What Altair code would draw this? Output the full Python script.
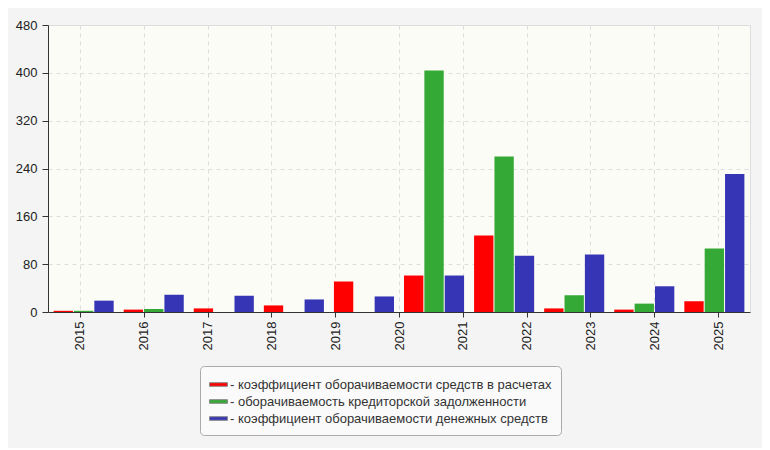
import altair as alt
import pandas as pd

years = ["2015", "2016", "2017", "2018", "2019", "2020", "2021", "2022", "2023", "2024", "2025"]
groups = [1, 2, 3, 4, 5, 6, 7, 8, 9, 10]
series = [
    "коэффициент оборачиваемости средств в расчетах",
    "оборачиваемость кредиторской задолженности",
    "коэффициент оборачиваемости денежных средств",
]
red_vals = [2, 4, 6, 11, 51, 61, 128, 6, 4, 18]
green_vals = [2, 5, 0, 0, 0, 404, 260, 28, 14, 106]
blue_vals = [19, 29, 27, 21, 26, 61, 94, 96, 43, 231]
colors = ["#ff0000", "#35a935", "#3535b5"]

rows = []
for vals, s in zip([red_vals, green_vals, blue_vals], series):
    for g, v in zip(groups, vals):
        rows.append({"g": g, "series": s, "value": v})
df = pd.DataFrame(rows)
ydf = pd.DataFrame({"year": years, "v": [0] * len(years)})

yscale = alt.Scale(domain=[0, 480], nice=False)

axis_layer = alt.Chart(ydf).mark_point(opacity=0).encode(
    x=alt.X("year:N", sort=years, title=None,
            scale=alt.Scale(paddingInner=0, paddingOuter=0),
            axis=alt.Axis(labelAngle=-90, grid=True, gridDash=[4, 4], gridColor="#dddddd",
                          domainColor="#333333", tickColor="#333333", tickSize=5,
                          labelFontSize=13, labelColor="#222222", labelPadding=4,
                          labelBaseline="middle", labelAlign="right")),
    y=alt.Y("v:Q", scale=yscale, title=None,
            axis=alt.Axis(values=[0, 80, 160, 240, 320, 400, 480], grid=True, gridDash=[4, 4],
                          gridColor="#dddddd", domainColor="#333333", tickColor="#333333",
                          tickSize=6, labelFontSize=13, labelColor="#222222", labelPadding=5)),
)

bars = alt.Chart(df).mark_bar().encode(
    x=alt.X("g:O", title=None, axis=None,
            scale=alt.Scale(paddingInner=1 / 7, paddingOuter=0.08)),
    xOffset=alt.XOffset("series:N", sort=series, scale=alt.Scale(paddingInner=0.05)),
    y=alt.Y("value:Q", scale=yscale, title=None),
    color=alt.Color("series:N", sort=series,
                    scale=alt.Scale(domain=series, range=colors),
                    legend=alt.Legend(title=None, orient="none", legendX=152, legendY=341,
                                      direction="vertical",
                                      labelExpr="'- ' + datum.label",
                                      symbolType="M-1,-0.2L1,-0.2L1,0.2L-1,0.2Z",
                                      symbolSize=324, symbolStrokeWidth=1,
                                      symbolStrokeColor="#888888",
                                      labelFontSize=13, labelColor="#333333",
                                      labelLimit=500, rowPadding=0, symbolOffset=0,
                                      padding=9, fillColor="#fafafa",
                                      strokeColor="#aaaaaa", cornerRadius=4,
                                      labelOffset=2)),
)

chart = alt.layer(axis_layer, bars).resolve_scale(x="independent").properties(
    width=702, height=287,
    autosize=alt.AutoSizeParams(type="none"),
    padding={"left": 40, "top": 17, "right": 12, "bottom": 136},
    background="#f4f4f4",
    view=alt.ViewBackground(fill="#fcfcf6", stroke="#dddddd"),
).configure_view(
    fill="#fcfcf6", stroke="#dddddd"
).configure(font="Liberation Sans")

chart.save("out.html", embed_options={"renderer": "svg", "actions": False})
